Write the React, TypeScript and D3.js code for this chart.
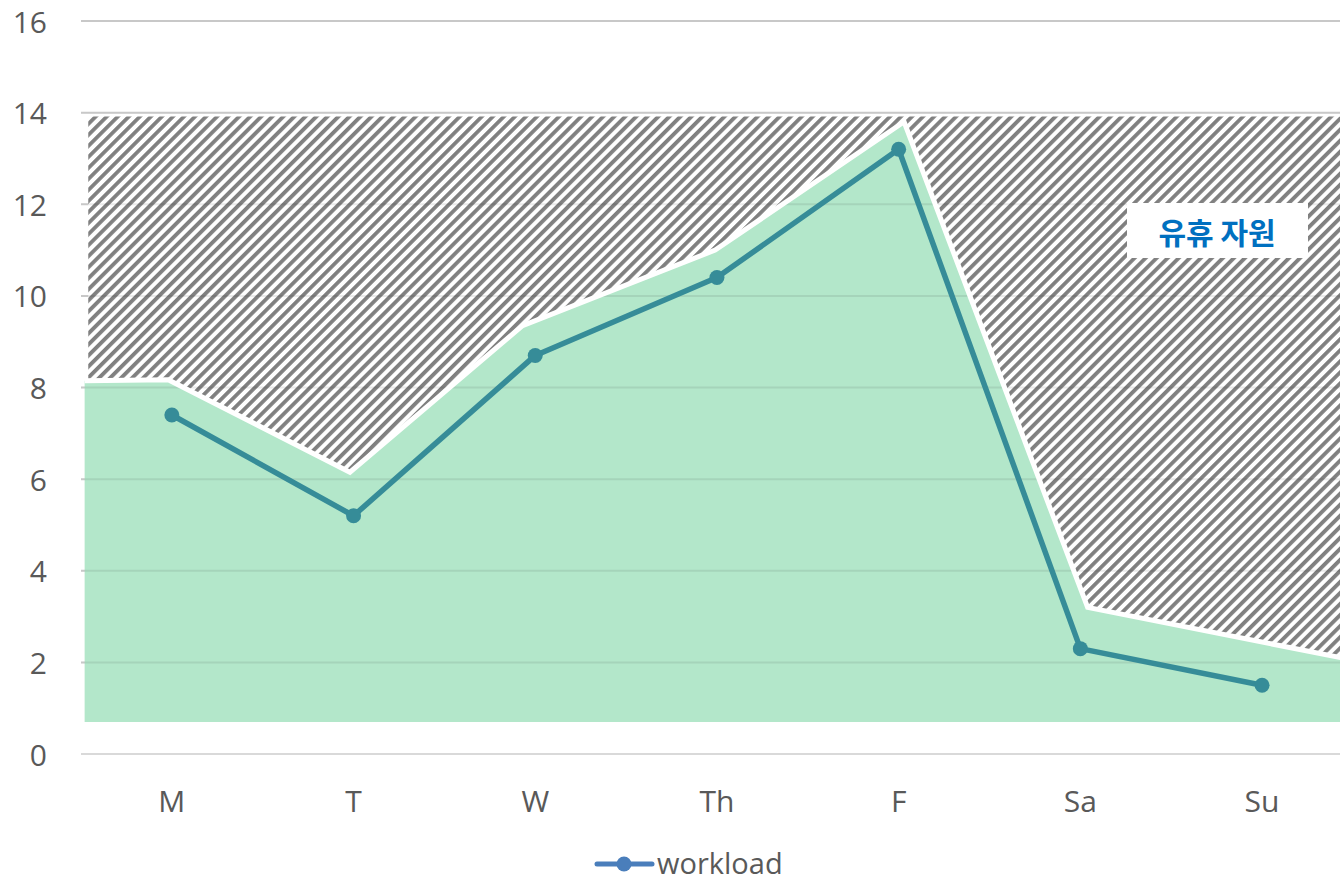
import React from "react";
import * as d3 from "d3";

const categories = ["M", "T", "W", "Th", "F", "Sa", "Su"];
const workload = [7.4, 5.2, 8.7, 10.4, 13.2, 2.3, 1.5];
// capacity boundary (top of green area), positions in category-index units
const capacityPos = [-0.48, -0.02, 0.98, 1.93, 2.99, 4.03, 5.04, 6.5];
const capacityVal = [8.15, 8.17, 6.15, 9.35, 11.0, 13.8, 3.2, 2.05];
const areaBase = 0.7;
const idleTop = 13.95;
const yTicks = [0, 2, 4, 6, 8, 10, 12, 14, 16];
const seriesName = "workload";
const idleLabel = "유휴 자원";

const W = 1340;
const H = 881;
const plotLeft = 81;
const step = 181.7;
const plotRight = plotLeft + step * categories.length;
const yTop = 21;
const yBottom = 754;

export default function App() {
  const x = d3.scaleBand<string>().domain(categories).range([plotLeft, plotRight]).padding(0);
  const xi = d3.scaleLinear().domain([0, 1]).range([plotLeft + step / 2, plotLeft + step * 1.5]);
  const y = d3.scaleLinear().domain([0, 16]).range([yBottom, yTop]);

  const capPts: [number, number][] = capacityPos.map((p, i) => [xi(p), y(capacityVal[i])]);

  const areaPath = d3
    .area<[number, number]>()
    .x((d) => d[0])
    .y0(y(areaBase))
    .y1((d) => d[1])(capPts) as string;

  const hatchPts: [number, number][] = [
    [xi(-0.46), y(idleTop) + 1.5],
    [xi(6.5), y(idleTop) + 1.5],
    ...capPts.slice().reverse(),
  ];
  const hatchPts2 = hatchPts.map((p, i) => (i === hatchPts.length - 1 ? [xi(-0.46), p[1]] : p)) as [number, number][];
  const hatchPath = "M" + hatchPts2.map((p) => p.join(",")).join("L") + "Z";

  const capLine = d3.line<[number, number]>().x((d) => d[0]).y((d) => d[1])(capPts) as string;

  const wlLine = d3
    .line<number>()
    .x((_, i) => (x(categories[i]) as number) + x.bandwidth() / 2)
    .y((d) => y(d))(workload) as string;

  const font = "'Segoe UI', 'Open Sans', 'Noto Sans', sans-serif";
  const textColor = "#595959";
  const lineColor = "#368c98";

  return (
    <svg
      width={W}
      height={H}
      style={{ position: "absolute", left: 0, top: 0, background: "#fff" }}
      xmlns="http://www.w3.org/2000/svg"
    >
      <defs>
        <pattern
          id="hatch"
          patternUnits="userSpaceOnUse"
          width={7.8}
          height={7.8}
          patternTransform="rotate(45)"
        >
          <rect x={0} y={0} width={7.8} height={7.8} fill="#fff" />
          <rect x={0} y={0} width={3.8} height={7.8} fill="#808080" />
        </pattern>
      </defs>

      {/* gridlines under */}
      {yTicks.map((t) => (
        <line key={"g" + t} x1={plotLeft} x2={plotRight} y1={y(t)} y2={y(t)} stroke="#d9d9d9" strokeWidth={2} />
      ))}

      {/* hatch region */}
      <path d={hatchPath} fill="url(#hatch)" />

      {/* green area */}
      <path d={areaPath} fill="#b3e7ca" />
      {/* gridlines shown through green */}
      {yTicks
        .filter((t) => t > areaBase)
        .map((t) => (
          <line key={"gg" + t} x1={plotLeft} x2={plotRight} y1={y(t)} y2={y(t)} stroke="#000" strokeOpacity={0.08} strokeWidth={2} />
        ))}
      {/* white separator */}
      <path d={capLine} fill="none" stroke="#fff" strokeWidth={5} strokeLinejoin="miter" />

      {/* workload line */}
      <path d={wlLine} fill="none" stroke={lineColor} strokeWidth={5.5} strokeLinejoin="round" />
      {workload.map((v, i) => (
        <circle key={"c" + i} cx={(x(categories[i]) as number) + x.bandwidth() / 2} cy={y(v)} r={7.5} fill={lineColor} />
      ))}

      {/* idle label */}
      <rect x={1127} y={203} width={181} height={55} fill="#fff" />
      <text
        x={1217}
        y={231}
        textAnchor="middle"
        dominantBaseline="central"
        fontFamily="'Noto Sans CJK KR', sans-serif"
        fontWeight={700}
        fontSize={30}
        fill="#0070c0"
      >
        {idleLabel}
      </text>

      {/* y ticks */}
      {yTicks.map((t) => (
        <text
          key={"t" + t}
          x={47}
          y={y(t)}
          textAnchor="end"
          dominantBaseline="central"
          fontFamily={font}
          fontSize={30}
          fill={textColor}
        >
          {t}
        </text>
      ))}

      {/* x labels */}
      {categories.map((c) => (
        <text
          key={"x" + c}
          x={(x(c) as number) + x.bandwidth() / 2}
          y={812}
          textAnchor="middle"
          fontFamily={font}
          fontSize={30}
          fill={textColor}
        >
          {c}
        </text>
      ))}

      {/* legend */}
      <line x1={597} x2={652} y1={864} y2={864} stroke="#4a7ebb" strokeWidth={5} strokeLinecap="round" />
      <circle cx={624} cy={864} r={7.5} fill="#4a7ebb" />
      <text x={657} y={874} fontFamily={font} fontSize={29} fill={textColor}>
        {seriesName}
      </text>
    </svg>
  );
}
